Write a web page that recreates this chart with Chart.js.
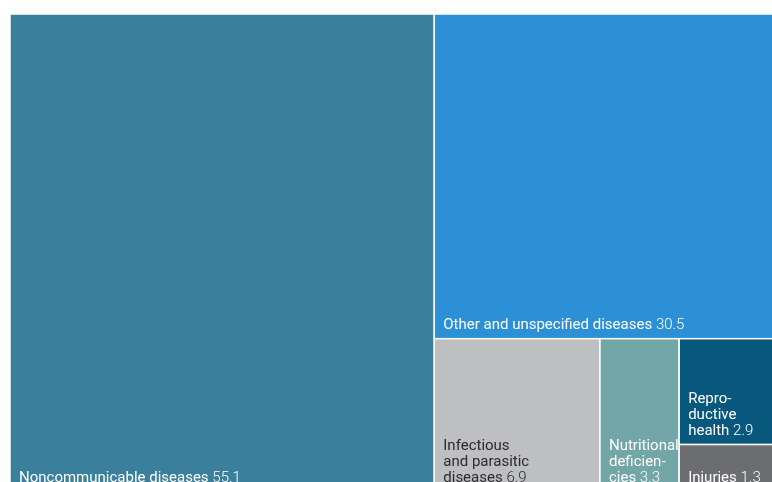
<!DOCTYPE html>
<html>
<head>
<meta charset="utf-8">
<script src="https://cdn.jsdelivr.net/npm/chart.js@4/dist/chart.umd.min.js"></script>
<style>
    html, body { margin: 0; padding: 0; background: #fff; overflow: hidden; }
    #wrap { position: absolute; left: 0; top: 0; width: 790px; height: 500px; }
</style>
</head>
<body>
<div id="wrap"><canvas id="treemap" width="790" height="500"></canvas></div>
<script>
const categories = ['Noncommunicable diseases', 'Other and unspecified diseases', 'Infectious and parasitic diseases',
    'Nutritional deficiencies', 'Reproductive health', 'Injuries'];
const shares = [55.1, 30.5, 6.9, 3.3, 2.9, 1.3];
// labels broken by hand so they fit the narrow cells
const labelLines = [
    ['Noncommunicable diseases'],
    ['Other and unspecified diseases'],
    ['Infectious', 'and parasitic', 'diseases'],
    ['Nutritional', 'deficien-', 'cies'],
    ['Repro-', 'ductive', 'health'],
    ['Injuries']
];
const cellColors = ['#3a7f9b', '#2b90d5', '#bebfc1', '#72a6a7', '#07587c', '#6c6d70'];
const textColors = ['#ffffff', '#ffffff', '#2b2a2c', '#ffffff', '#ffffff', '#ffffff'];

// squarified layout, worked out in a box of size aspect x 1
function worst(row, side) {
    let s = 0, mx = 0, mn = Infinity;
    row.forEach(a => { s += a; mx = Math.max(mx, a); mn = Math.min(mn, a); });
    return Math.max(side * side * mx / (s * s), (s * s) / (side * side * mn));
}

function squarify(values, aspect) {
    let total = values.reduce((a, b) => a + b, 0);
    let box = { x: 0, y: 0, w: aspect, h: 1 };
    let areas = values.map(v => v / total * aspect);
    let cells = [];
    let i = 0;
    while (i < areas.length) {
        let side = Math.min(box.w, box.h);
        let row = [areas[i]];
        let j = i + 1;
        while (j < areas.length && worst(row.concat(areas[j]), side) <= worst(row, side)) {
            row.push(areas[j]);
            j++;
        }
        let rowSum = row.reduce((a, b) => a + b, 0);
        if (box.w >= box.h) {
            let colW = rowSum / box.h, yy = box.y;
            row.forEach((a, k) => {
                let hh = a / colW;
                cells[i + k] = { x0: box.x / aspect, x1: (box.x + colW) / aspect, y0: yy, y1: yy + hh };
                yy += hh;
            });
            box.x += colW; box.w -= colW;
        } else {
            let rowH = rowSum / box.w, xx = box.x;
            row.forEach((a, k) => {
                let ww = a / rowH;
                cells[i + k] = { x0: xx / aspect, x1: (xx + ww) / aspect, y0: box.y, y1: box.y + rowH };
                xx += ww;
            });
            box.y += rowH; box.h -= rowH;
        }
        i = j;
    }
    return cells;
}

const treemapCells = {
    id: 'treemapCells',
    afterDatasetsDraw(chart) {
        const ctx = chart.ctx;
        const area = chart.chartArea;
        const xs = chart.scales.x, ys = chart.scales.y;
        const cells = squarify(shares, area.width / area.height);

        cells.forEach((c, i) => {
            let left = xs.getPixelForValue(c.x0), right = xs.getPixelForValue(c.x1);
            let top = ys.getPixelForValue(c.y0), bottom = ys.getPixelForValue(c.y1);
            ctx.save();
            ctx.fillStyle = cellColors[i];
            ctx.fillRect(left, top, right - left, bottom - top);
            ctx.strokeStyle = '#ffffff';
            ctx.lineWidth = 1.5;
            ctx.strokeRect(left, top, right - left, bottom - top);

            // label sits in the bottom-left corner, value in a lighter weight
            let lines = labelLines[i];
            let y = bottom - 10 - (lines.length - 1) * 16;
            ctx.fillStyle = textColors[i];
            ctx.textBaseline = 'alphabetic';
            lines.forEach((ln, k) => {
                ctx.font = '400 15px Roboto';
                ctx.fillText(ln, left + 9, y);
                if (k === lines.length - 1) {
                    let w = ctx.measureText(ln + ' ').width;
                    ctx.font = '300 15px Roboto';
                    ctx.fillText(shares[i].toFixed(1), left + 9 + w, y);
                }
                y += 16;
            });
            ctx.restore();
        });
    }
};

new Chart(document.getElementById('treemap'), {
    type: 'scatter',
    data: {
        labels: categories,
        datasets: [{ label: 'Share', data: [] }]
    },
    options: {
        responsive: false,
        animation: false,
        layout: { padding: { left: 10, top: 14, right: 10, bottom: 8 } },
        scales: {
            x: { type: 'linear', min: 0, max: 1, display: false },
            y: { type: 'linear', min: 0, max: 1, reverse: true, display: false }
        },
        plugins: {
            legend: { display: false },
            tooltip: { enabled: false }
        }
    },
    plugins: [treemapCells]
});
</script>
</body>
</html>
